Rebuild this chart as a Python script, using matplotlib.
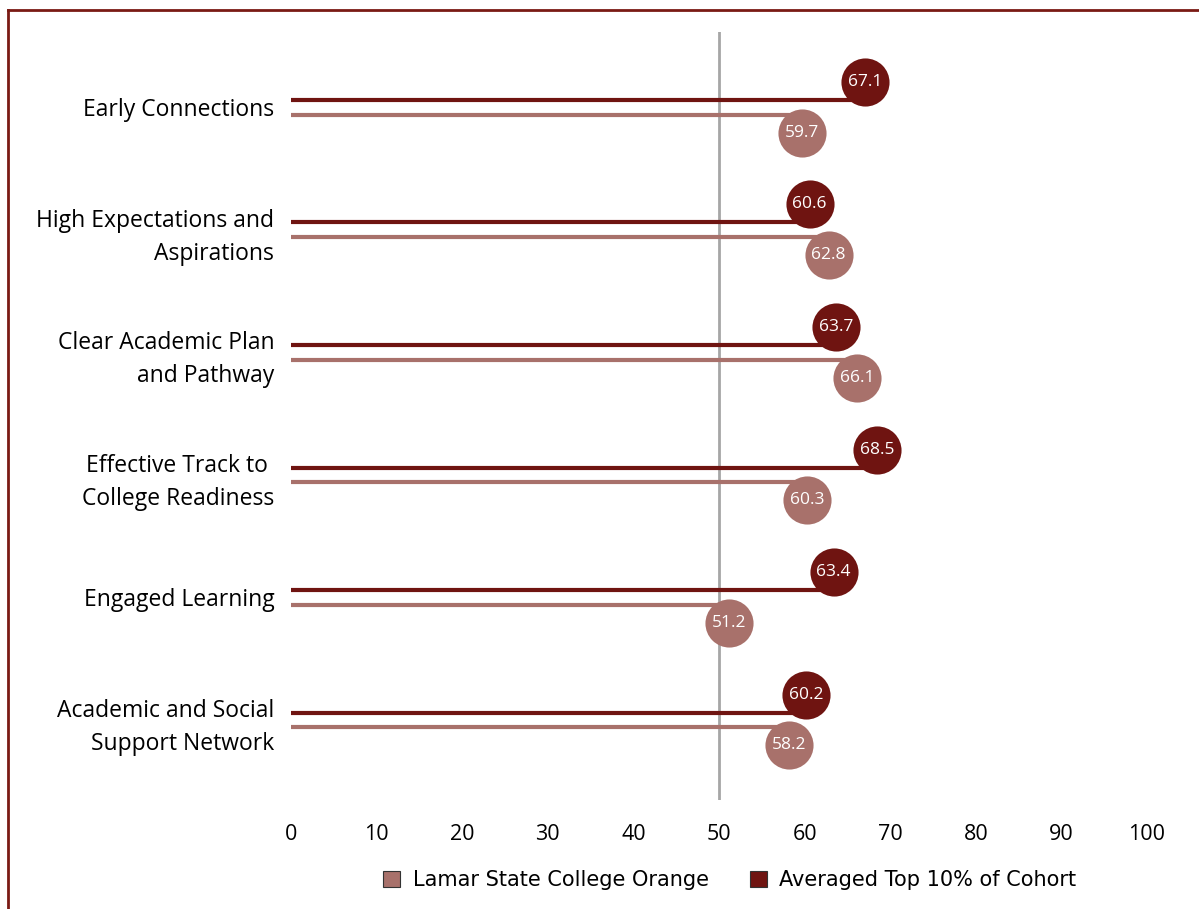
import matplotlib.pyplot as plt
from matplotlib.lines import Line2D
from matplotlib.patches import Patch

categories = ["Early Connections", "High Expectations and\nAspirations",
              "Clear Academic Plan\nand Pathway", "Effective Track to \nCollege Readiness",
              "Engaged Learning", "Academic and Social\nSupport Network"]
lamar = [59.7, 62.8, 66.1, 60.3, 51.2, 58.2]
top10 = [67.1, 60.6, 63.7, 68.5, 63.4, 60.2]
xticks = list(range(0, 101, 10))

dark = "#6f1411"
light = "#a8716b"

W, H = 1199, 909
fig = plt.figure(figsize=(W / 100, H / 100), dpi=100)
ax = fig.add_axes([291 / W, 1 - 800 / H, 856 / W, 768 / H])

for i in range(len(categories)):
    ax.plot([0, top10[i]], [i - 0.061, i - 0.061], color=dark, lw=3, solid_capstyle="butt", zorder=2)
    ax.plot([0, lamar[i]], [i + 0.061, i + 0.061], color=light, lw=3, solid_capstyle="butt", zorder=2)
    ax.scatter(top10[i], i - 0.208, s=1200, color=dark, zorder=3, linewidths=0)
    ax.scatter(lamar[i], i + 0.208, s=1200, color=light, zorder=3, linewidths=0)
    ax.text(top10[i], i - 0.208, f"{top10[i]:.1f}", color="white", ha="center", va="center",
            fontsize=12.5, family="Open Sans", zorder=4)
    ax.text(lamar[i], i + 0.208, f"{lamar[i]:.1f}", color="white", ha="center", va="center",
            fontsize=12.5, family="Open Sans", zorder=4)

ax.axvline(50, color="#a6a6a6", lw=2, zorder=1)
ax.set_xlim(0, 100)
ax.set_ylim(5.653, -0.616)
ax.set_xticks(xticks)
ax.set_xticklabels([str(t) for t in xticks], fontsize=15.5, family="Open Sans")
ax.set_yticks(range(len(categories)))
ax.set_yticklabels(categories, fontsize=16.5, family="Open Sans", linespacing=1.5)
ax.tick_params(length=0, pad=12)
ax.tick_params(axis="x", pad=17)
for s in ax.spines.values():
    s.set_visible(False)

handles = [Patch(facecolor=light, edgecolor="#333333", lw=0.8, label="Lamar State College Orange"),
           Patch(facecolor=dark, edgecolor="#333333", lw=0.8, label="Averaged Top 10% of Cohort")]
fig.legend(handles=handles, loc="center", bbox_to_anchor=(730 / W, 1 - 880 / H), ncol=2,
           frameon=False, handlelength=0.8, handleheight=0.8, columnspacing=2.0, handletextpad=0.6,
           prop={"family": ["Liberation Sans Narrow", "DejaVu Sans"], "size": 15})

fig.add_artist(Line2D([8 / W, 1], [1 - 10 / H, 1 - 10 / H], color="#7a1a14", lw=2, transform=fig.transFigure))
fig.add_artist(Line2D([8 / W, 8 / W], [1 - 10 / H, 0], color="#7a1a14", lw=2, transform=fig.transFigure))

fig.savefig("out.png", dpi=100)
